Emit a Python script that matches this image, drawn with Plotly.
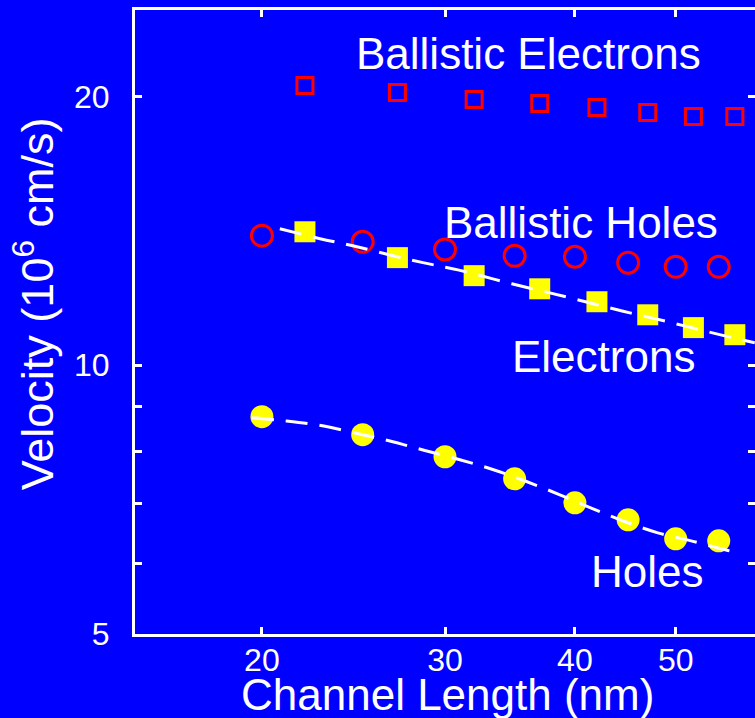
import numpy as np
import plotly.graph_objects as go

# ---- data ----
ball_elec_x = [22, 27, 32, 37, 42, 47, 52, 57]
ball_elec_y = [20.58, 20.21, 19.85, 19.64, 19.44, 19.19, 18.99, 18.99]

ball_hole_x = [20, 25, 30, 35, 40, 45, 50, 55]
ball_hole_y = [13.97, 13.75, 13.48, 13.26, 13.23, 13.03, 12.89, 12.89]

elec_x = [22, 27, 32, 37, 42, 47, 52, 57]
elec_y = [14.11, 13.20, 12.60, 12.18, 11.78, 11.39, 11.02, 10.82]

hole_x = [20, 25, 30, 35, 40, 45, 50, 55]
hole_y = [8.757, 8.360, 7.898, 7.462, 7.014, 6.713, 6.391, 6.358]

# dashed fit curves
elec_fit_x = [20.81, 22.75, 24.52, 26.50, 28.57, 30.94, 34.78, 39.21, 42.0, 45.29, 48.93, 52.75, 57.0, 59.57]
elec_fit_y = [14.22, 13.86, 13.60, 13.30, 13.03, 12.78, 12.34, 11.93, 11.69, 11.44, 11.20, 10.96, 10.72, 10.60]

hole_fit_x = [19.56, 21.00, 22.70, 24.52, 26.50, 28.63, 31.00, 33.29, 35.88, 38.69, 41.53, 44.59, 48.06, 51.94, 56.00, 57.39]
hole_fit_y = [8.735, 8.668, 8.567, 8.403, 8.231, 8.032, 7.837, 7.648, 7.415, 7.160, 6.915, 6.687, 6.491, 6.350, 6.205, 6.165]

x_ticks = [20, 30, 40, 50]
y_ticks = [5, 6, 7, 8, 9, 10, 20]
y_ticktext = ["5", "", "", "", "", "10", "20"]

BLUE = "#0000FF"
RED = "#FF0000"
YEL = "#FFFF00"
WHITE = "#FFFFFF"
FONT = "Liberation Sans, Arial, Helvetica, sans-serif"

fig = go.Figure()

fig.add_trace(go.Scatter(x=ball_elec_x, y=ball_elec_y, mode="markers",
                         marker=dict(symbol="square-open", size=16, color=RED,
                                     line=dict(color=RED, width=3))))
fig.add_trace(go.Scatter(x=ball_hole_x, y=ball_hole_y, mode="markers",
                         marker=dict(symbol="circle-open", size=21, color=RED,
                                     line=dict(color=RED, width=3))))
fig.add_trace(go.Scatter(x=elec_x, y=elec_y, mode="markers",
                         marker=dict(symbol="square", size=21, color=YEL,
                                     line=dict(width=0))))
fig.add_trace(go.Scatter(x=hole_x, y=hole_y, mode="markers",
                         marker=dict(symbol="circle", size=23, color=YEL,
                                     line=dict(width=0))))
fig.add_trace(go.Scatter(x=elec_fit_x, y=elec_fit_y, mode="lines",
                         line=dict(color=WHITE, width=3, dash="22px,12px", shape="spline")))
fig.add_trace(go.Scatter(x=hole_fit_x, y=hole_fit_y, mode="lines",
                         line=dict(color=WHITE, width=3, dash="22px,12px", shape="spline")))
# invisible trace to activate right-hand tick axis
fig.add_trace(go.Scatter(x=[20], y=[10], yaxis="y2", mode="markers",
                         marker=dict(opacity=0), hoverinfo="skip"))

fig.update_layout(
    width=755, height=718,
    margin=dict(l=135, r=0, t=10, b=84),
    paper_bgcolor=BLUE, plot_bgcolor=BLUE,
    showlegend=False,
    font=dict(family=FONT, color=WHITE),
    xaxis=dict(type="log", range=[np.log10(15.1), np.log10(59.6)],
               tickvals=x_ticks, ticktext=[str(v) for v in x_ticks],
               ticks="inside", ticklen=7, tickwidth=2.5, tickcolor=WHITE,
               showline=True, linecolor=WHITE, linewidth=3, mirror="ticks",
               showgrid=False, zeroline=False,
               tickfont=dict(size=32, color=WHITE, family=FONT),
               ticklabelstandoff=-4),
    yaxis=dict(type="log", range=[np.log10(5), np.log10(25)],
               tickvals=y_ticks, ticktext=y_ticktext,
               ticks="inside", ticklen=7, tickwidth=2.5, tickcolor=WHITE,
               showline=True, linecolor=WHITE, linewidth=3, mirror=False,
               showgrid=False, zeroline=False,
               tickfont=dict(size=32, color=WHITE, family=FONT),
               ticklabelstandoff=16),
    yaxis2=dict(type="log", range=[np.log10(5), np.log10(25)], overlaying="y",
                side="right", tickvals=y_ticks, showticklabels=False,
                ticks="inside", ticklen=7, tickwidth=2.5, tickcolor=WHITE,
                showline=False, showgrid=False, zeroline=False),
)

def ann(text, x, y, size=44, angle=0):
    fig.add_annotation(text=text, x=x, y=y, xref="paper", yref="paper",
                       xanchor="center", yanchor="middle", showarrow=False,
                       textangle=angle, font=dict(size=size, color=WHITE, family=FONT))

ann("Ballistic Electrons", 0.634, 0.9295)
ann("Ballistic Holes", 0.720, 0.660)
ann("Electrons", 0.756, 0.4455)
ann("Holes", 0.827, 0.0994)
ann("Channel Length (nm)", 0.504, -0.0962)
ann("Velocity (10<sup>6</sup> cm/s)", -0.163, 0.530, size=45, angle=-90)

fig.write_html("out.html", config={"displayModeBar": False},
               post_script="document.body.style.margin='0';document.body.style.overflow='hidden';")
